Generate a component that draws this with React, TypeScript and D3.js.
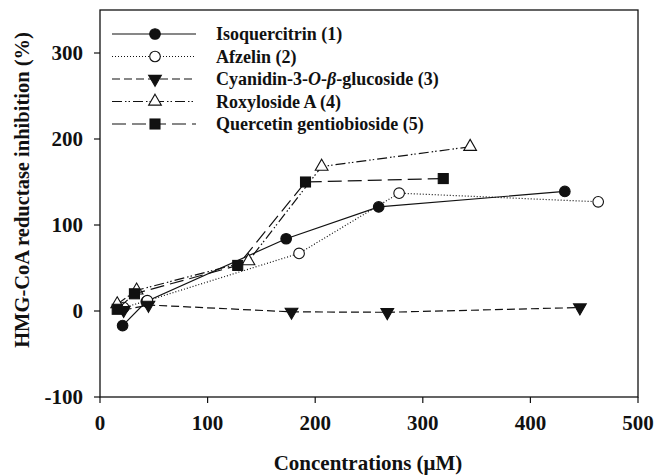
import React from 'react';
import * as d3 from 'd3';

const isoquercitrin = [[21, -17], [43, 11], [173, 84], [259, 121], [432, 139]];
const afzelin = [[22, 4], [44, 12], [185, 67], [278, 137], [463, 127]];
const cyanidin = [[22, 1], [45, 7], [178, -1], [267, -1.5], [446, 4]];
const roxyloside = [[16, 8], [34, 24], [138, 58], [206, 168], [344, 191]];
const gentiobioside = [[16, 2], [32, 20], [128, 53], [191, 150], [319, 154]];

const xTicks = [0, 100, 200, 300, 400, 500];
const yTicks = [-100, 0, 100, 200, 300];

const series = [
  { name: 'Isoquercitrin (1)', data: isoquercitrin, dash: 'none', marker: 'circle', fill: '#111' },
  { name: 'Afzelin (2)', data: afzelin, dash: '1,2', marker: 'circle', fill: '#fff' },
  { name: 'cyanidin', data: cyanidin, dash: '8,4', marker: 'down', fill: '#111' },
  { name: 'Roxyloside A (4)', data: roxyloside, dash: '10,3,1.5,2,1.5,3', marker: 'up', fill: '#fff' },
  { name: 'Quercetin gentiobioside (5)', data: gentiobioside, dash: '14,6', marker: 'square', fill: '#111' },
];

const font = "'Liberation Serif', 'Times New Roman', serif";

function Marker({ type, x, y, fill }: { type: string; x: number; y: number; fill: string }) {
  const common = { fill, stroke: '#111', strokeWidth: 1.1 };
  if (type === 'circle') return <circle cx={x} cy={y} r={5.3} {...common} />;
  if (type === 'square') return <rect x={x - 5} y={y - 5} width={10} height={10} {...common} />;
  const sym = d3.symbol(d3.symbolTriangle, 70)();
  const rot = type === 'down' ? 180 : 0;
  return <path d={sym as string} transform={`translate(${x},${y}) rotate(${rot})`} {...common} />;
}

export default function App() {
  const width = 656;
  const height = 475;
  const margin = { top: 10, right: 18, bottom: 78, left: 100 };

  const x = d3.scaleLinear().domain([0, 500]).range([margin.left, width - margin.right]);
  const y = d3.scaleLinear().domain([-100, 350]).range([height - margin.bottom, margin.top]);
  const line = d3.line<number[]>().x((d) => x(d[0])).y((d) => y(d[1]));

  const legendY = (i: number) => 34 + i * 22.5;

  return (
    <svg width={width} height={height} style={{ position: 'absolute', left: 0, top: 0, background: '#fff' }} fontFamily={font}>
      <rect x={x(0)} y={y(350)} width={x(500) - x(0)} height={y(-100) - y(350)} fill="none" stroke="#111" strokeWidth={1.3} />

      {xTicks.map((t) => (
        <g key={'x' + t}>
          <line x1={x(t)} x2={x(t)} y1={y(-100)} y2={y(-100) + 6} stroke="#111" strokeWidth={1.2} />
          <text x={x(t)} y={y(-100) + 33} textAnchor="middle" fontSize={21} fontWeight="bold" fill="#111">{t}</text>
        </g>
      ))}
      {yTicks.map((t) => (
        <g key={'y' + t}>
          <line x1={x(0) - 6} x2={x(0)} y1={y(t)} y2={y(t)} stroke="#111" strokeWidth={1.2} />
          <text x={x(0) - 17} y={y(t) + 7} textAnchor="end" fontSize={21} fontWeight="bold" fill="#111">{t}</text>
        </g>
      ))}

      <text x={368} y={470} textAnchor="middle" fontSize={21} fontWeight="bold" fill="#111">Concentrations (μM)</text>
      <text transform={`translate(29,190) rotate(-90)`} textAnchor="middle" fontSize={20.5} fontWeight="bold" fill="#111">
        HMG-CoA reductase inhibition (%)
      </text>

      {series.map((s) => (
        <g key={s.name}>
          <path d={line(s.data) as string} fill="none" stroke="#111" strokeWidth={1.2} strokeDasharray={s.dash} />
          {s.data.map((d, i) => (
            <Marker key={i} type={s.marker} x={x(d[0])} y={y(d[1])} fill={s.fill} />
          ))}
        </g>
      ))}

      {series.map((s, i) => (
        <g key={'lg' + i}>
          <line x1={112} x2={196} y1={legendY(i)} y2={legendY(i)} stroke="#111" strokeWidth={1.2} strokeDasharray={s.dash} />
          <Marker type={s.marker} x={155} y={legendY(i)} fill={s.fill} />
          <text x={216} y={legendY(i) + 6} fontSize={18} fontWeight="bold" fill="#111">
            {i === 2 ? (
              <>
                Cyanidin-3-<tspan fontStyle="italic">O</tspan>-<tspan fontStyle="italic">β</tspan>-glucoside (3)
              </>
            ) : (
              s.name
            )}
          </text>
        </g>
      ))}
    </svg>
  );
}
